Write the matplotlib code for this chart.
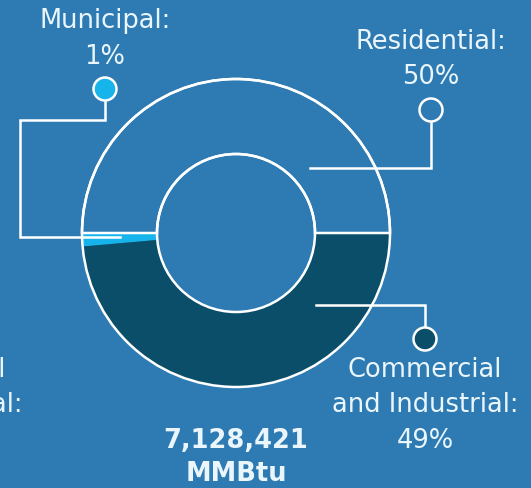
import matplotlib
matplotlib.use("Agg")
import matplotlib.pyplot as plt
from matplotlib.patches import Circle

# Data
categories = ["Residential", "Municipal", "Commercial and Industrial"]
shares = [50.0, 1.4, 48.6]
pct_labels = ["50%", "1%", "49%"]
total_label = "7,128,421"
unit_label = "MMBtu"

BG = "#2e7bb3"
DARK = "#0a4e69"
CYAN = "#17b4ec"
TXT = "#eaf6fb"
slice_colors = [BG, CYAN, DARK]

W, H = 531, 489
fig = plt.figure(figsize=(W / 100, H / 100), dpi=100, facecolor=BG)
ax = fig.add_axes([0, 0, 1, 1])
ax.set_facecolor(BG)

lw = 1.8
cx, cy, R, r_in = 236, 234, 154, 79
wedges, _ = ax.pie(shares, colors=slice_colors, startangle=0, counterclock=False,
                   center=(cx, cy), radius=R,
                   wedgeprops=dict(width=R - r_in, linewidth=0))
wedges[0].set_edgecolor("white")
wedges[0].set_linewidth(lw)
wedges[0].set_zorder(3)
for rr in (R, r_in):
    ax.add_patch(Circle((cx, cy), rr, fill=False, edgecolor="white", lw=lw, zorder=4))
ax.set_xlim(0, W)
ax.set_ylim(H, 0)
ax.set_aspect("auto")
ax.axis("off")

# Leader lines
ax.plot([105, 105, 20, 20, 120], [103, 121, 121, 238, 238], color="white", lw=lw, zorder=5, solid_joinstyle="miter")
ax.plot([431, 431, 310], [124, 169, 169], color="white", lw=lw, zorder=5, solid_joinstyle="miter")
ax.plot([316, 425, 425], [306, 306, 328], color="white", lw=lw, zorder=5, solid_joinstyle="miter")

# Marker circles
for (x, y, fc) in [(105, 90, CYAN), (431, 111, BG), (425, 340, DARK)]:
    ax.add_patch(Circle((x, y), 11.5, facecolor=fc, edgecolor="white", lw=lw, zorder=6))

fs = 18.5
font = "DejaVu Sans"
def label(x, lines, y0, dy=35.5):
    for i, t in enumerate(lines):
        ax.text(x, y0 + i * dy, t, ha="center", va="center", color=TXT,
                fontsize=fs, family=font, zorder=7)

label(105, ["Municipal:", pct_labels[1]], 21)
label(431, ["Residential:", pct_labels[0]], 42)
label(425, ["Commercial", "and Industrial:", pct_labels[2]], 370)
# cropped label from neighbouring panel
label(-71, ["Commercial", "and Industrial:"], 370)

ax.text(cx, 441, total_label, ha="center", va="center", color=TXT,
        fontsize=fs, fontweight="bold", family=font, zorder=7)
ax.text(cx, 474, unit_label, ha="center", va="center", color=TXT,
        fontsize=fs, fontweight="bold", family=font, zorder=7)

fig.savefig("out.png", dpi=100, facecolor=BG)
